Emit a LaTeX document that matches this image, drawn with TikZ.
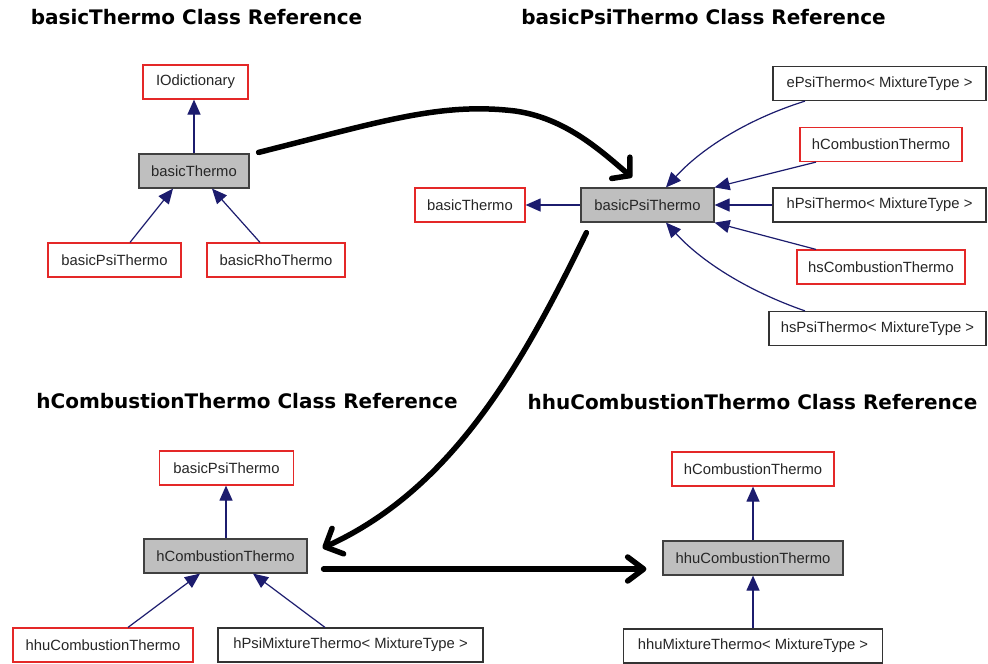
\documentclass[tikz,border=0pt]{standalone}
\usepackage{fontspec}
\setmainfont{Liberation Sans}
\newfontfamily\titlefam{DejaVu Sans}
\usetikzlibrary{arrows.meta,calc}
\definecolor{dred}{RGB}{228,40,40}
\definecolor{navyline}{RGB}{28,28,110}
\definecolor{boxgray}{RGB}{191,191,191}
\newcommand{\mytitlefont}{\titlefam\bfseries\fontsize{20}{24}\selectfont}
\newcommand{\myboxfont}{\fontsize{14.8}{17}\selectfont}
\tikzset{
  basebox/.style={draw, line width=1.2pt, minimum height=34pt, inner sep=0pt, font=\myboxfont, text=black!85},
  redbox/.style={basebox, draw=dred, fill=white},
  blackbox/.style={basebox, draw=black!80, fill=white},
  graybox/.style={basebox, draw=black!75, fill=boxgray},
  inh/.style={draw=navyline, line width=1.2pt, -{Triangle[length=15pt,width=13pt]}},
  hand/.style={draw=black, line width=5.5pt, line cap=round, line join=round},
  titletext/.style={font=\mytitlefont, inner sep=0pt, text=black}
}
\begin{document}
\begin{tikzpicture}[x=1pt,y=-1pt]
\useasboundingbox[fill=white] (0,0) rectangle (988,664);

% titles
\node[titletext] (t1) at (196.5,17) {basicThermo Class Reference};
\node[titletext] (t2) at (703.5,17) {basicPsiThermo Class Reference};
\node[titletext] (t3) at (247,401) {hCombustionThermo Class Reference};
\node[titletext] (t4) at (752.5,402) {hhuCombustionThermo Class Reference};

% group 1
\node[redbox, minimum width=105pt] (io) at (195.5,82) {IOdictionary};
\node[graybox, minimum width=110pt] (bt) at (194,171) {basicThermo};
\node[redbox, minimum width=133pt] (bpt1) at (114.5,260) {basicPsiThermo};
\node[redbox, minimum width=138pt] (brt) at (276,260) {basicRhoThermo};
\draw[inh] (bt.north) -- (bt.north |- io.south);
\draw[inh] ([xshift=15.5pt]bpt1.north) -- ([xshift=-21pt]bt.south);
\draw[inh] ([xshift=-16pt]brt.north) -- ([xshift=18pt]bt.south);

% group 2
\node[redbox, minimum width=110pt] (bt2) at (470,205) {basicThermo};
\node[graybox, minimum width=133pt] (bpt2) at (647.5,205) {basicPsiThermo};
\node[blackbox, minimum width=213pt] (eps) at (879.5,83.5) {ePsiThermo< MixtureType >};
\node[redbox, minimum width=162pt] (hct) at (881,144.5) {hCombustionThermo};
\node[blackbox, minimum width=213pt] (hps) at (879.5,205) {hPsiThermo< MixtureType >};
\node[redbox, minimum width=168pt] (hsct) at (881,267) {hsCombustionThermo};
\node[blackbox, minimum width=217pt] (hsps) at (877.5,328.5) {hsPsiThermo< MixtureType >};
\draw[inh] (bpt2.west) -- (bt2.east);
\draw[inh] ([xshift=-74.5pt]eps.south) .. controls (745,120) and (700,150) .. ([xshift=18.5pt]bpt2.north);
\draw[inh] ([xshift=-65pt]hct.south) -- (bpt2.north east);
\draw[inh] (hps.west) -- (bpt2.east);
\draw[inh] ([xshift=-65pt]hsct.north) -- (bpt2.south east);
\draw[inh] ([xshift=-72.5pt]hsps.north) .. controls (745,290) and (700,260) .. ([xshift=18.5pt]bpt2.south);

% group 3
\node[redbox, minimum width=134pt] (bpt3) at (226.5,468) {basicPsiThermo};
\node[graybox, minimum width=163pt] (hct3) at (225.5,556) {hCombustionThermo};
\node[redbox, minimum width=180pt] (hhu3) at (103,645) {hhuCombustionThermo};
\node[blackbox, minimum width=265pt] (hpm) at (350.5,645) {hPsiMixtureThermo< MixtureType >};
\draw[inh] ([xshift=0.5pt]hct3.north) -- ([xshift=-0.5pt]bpt3.south);
\draw[inh] ([xshift=25pt]hhu3.north) -- ([xshift=-25.5pt]hct3.south);
\draw[inh] ([xshift=-25.5pt]hpm.north) -- ([xshift=27.5pt]hct3.south);

% group 4
\node[redbox, minimum width=162pt] (hct4) at (753,469) {hCombustionThermo};
\node[graybox, minimum width=180pt] (hhu4) at (753,558) {hhuCombustionThermo};
\node[blackbox, minimum width=259pt] (hhm) at (753,646) {hhuMixtureThermo< MixtureType >};
\draw[inh] (hhu4.north) -- (hct4.south);
\draw[inh] (hhm.north) -- (hhu4.south);

% hand-drawn black arrows
\coordinate (a1s) at ([shift={(9,-1)}]bt.north east);
\coordinate (a1e) at ([shift={(-15.5,-10)}]bpt2.north);
\draw[hand, -{Straight Barb[length=12pt,width=28pt,round]}] (a1s) .. controls (380,122) and (440,102) .. (515,111) .. controls (565,118) and (600,150) .. (a1e);

\coordinate (a2s) at ([shift={(6,10)}]bpt2.south west);
\coordinate (a2e) at ([shift={(15,-8)}]hct3.east);
\draw[hand, -{Straight Barb[length=14pt,width=28pt,round]}] (a2s) .. controls (520,370) and (450,490) .. (a2e);

\coordinate (a3s) at ([shift={(16,13)}]hct3.east);
\coordinate (a3e) at ([shift={(-16,11)}]hhu4.west);
\draw[hand, -{Straight Barb[length=16pt,width=24pt,round]}] (a3s) -- (a3e);
\end{tikzpicture}
\end{document}
